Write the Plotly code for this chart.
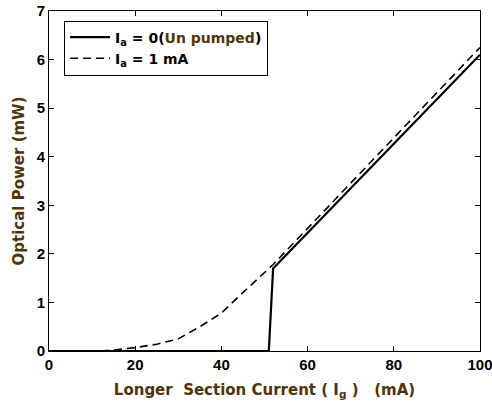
import plotly.graph_objects as go

# Data
ig_unpumped = [0, 51, 52, 100]
p_unpumped = [0, 0, 1.7, 6.1]

ig_pumped = [0, 12, 15, 20, 25, 30, 35, 40, 44, 48, 52, 100]
p_pumped = [0, 0, 0.02, 0.07, 0.14, 0.25, 0.5, 0.78, 1.12, 1.45, 1.78, 6.25]

label_color = "#4f3508"
arial = "Liberation Sans, Arial, sans-serif"
wide = "DejaVu Sans, Verdana, sans-serif"

fig = go.Figure()
fig.add_trace(go.Scatter(
    x=ig_unpumped, y=p_unpumped, mode="lines",
    name="I<sub>a</sub> = 0(<span style='color:#4f3508'>Un pumped</span>)",
    line=dict(color="black", width=2.2),
))
fig.add_trace(go.Scatter(
    x=ig_pumped, y=p_pumped, mode="lines",
    name="I<sub>a</sub> = 1 mA",
    line=dict(color="black", width=1.6, dash="8px,5px"),
))

axis_common = dict(
    showgrid=False, zeroline=False, showline=True, linecolor="black", linewidth=1,
    mirror="ticks", ticks="inside", ticklen=5, tickcolor="black", automargin=False,
    ticklabeloverflow="allow",
    tickfont=dict(family=arial, size=15, color="black", weight="bold"),
)

fig.update_layout(
    width=492, height=402,
    margin=dict(l=49, r=12, t=11, b=51),
    paper_bgcolor="white", plot_bgcolor="white",
    font=dict(family=arial, color="black"),
    xaxis=dict(range=[0, 100], tickvals=[0, 20, 40, 60, 80, 100],
               title=dict(text="<b>Longer  Section Current ( I<sub>g</sub> )   (mA)</b>",
                          font=dict(family=wide, size=15, color=label_color), standoff=12),
               **axis_common),
    yaxis=dict(range=[0, 7], tickvals=[0, 1, 2, 3, 4, 5, 6, 7],
               title=dict(text="<b>Optical Power (mW)</b>",
                          font=dict(family=wide, size=15, color=label_color), standoff=8),
               **axis_common),
    showlegend=True,
    legend=dict(x=0.035, y=0.972, xanchor="left", yanchor="top",
                bgcolor="white", bordercolor="black", borderwidth=1,
                font=dict(family=wide, size=14, color="black", weight="bold"),
                tracegroupgap=0, itemwidth=40),
)

fig.write_html("out.html")
